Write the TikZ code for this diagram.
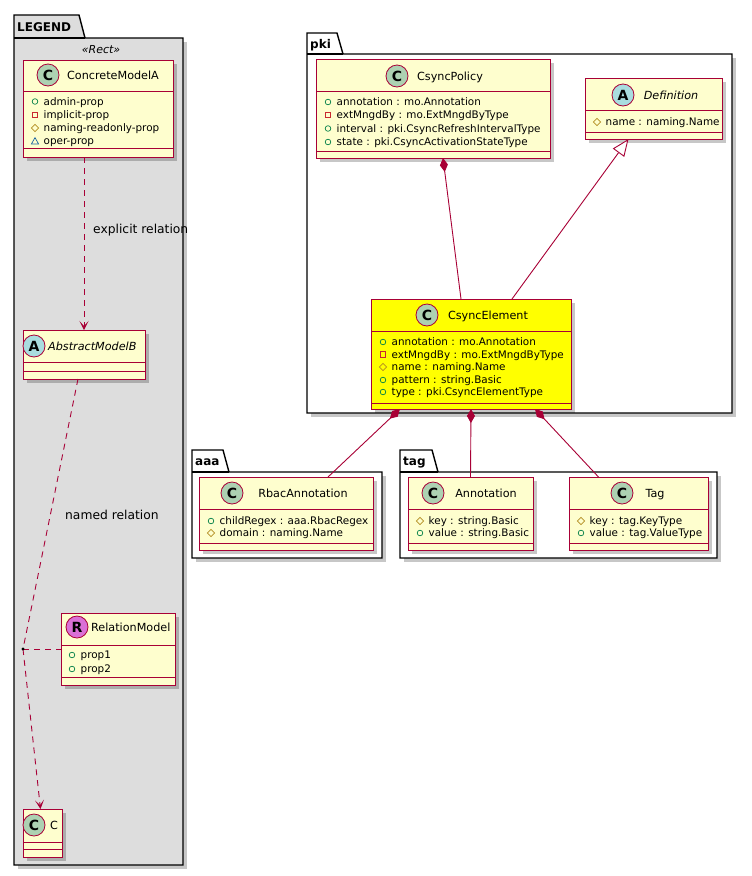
\documentclass[tikz,border=0pt]{standalone}
\usepackage{fontspec}
\setmainfont{DejaVu Sans}
\usetikzlibrary{arrows.meta,calc}
\definecolor{umlred}{HTML}{A80036}
\definecolor{clsfill}{HTML}{FEFECE}
\definecolor{cC}{HTML}{ADD1B2}
\definecolor{cA}{HTML}{A9DCDF}
\definecolor{cR}{HTML}{DA70D6}
\definecolor{legbg}{HTML}{DDDDDD}
\definecolor{vpub}{HTML}{038048}
\definecolor{vpriv}{HTML}{C82930}
\definecolor{vprot}{HTML}{B38D22}
\definecolor{vpkg}{HTML}{1963A0}
\definecolor{hiyellow}{HTML}{FFFF00}
\tikzset{
  clsline/.style={draw=umlred, line width=1pt},
  shadowc/.style={fill=black, opacity=0.22},
  attrtxt/.style={anchor=base west, inner sep=0pt, font=\fontsize{10.4}{13}\selectfont},
  titletxt/.style={anchor=base, inner sep=0pt, font=\fontsize{11.2}{13}\selectfont},
  ititletxt/.style={titletxt, font=\fontsize{11.2}{13}\selectfont\itshape},
  circ/.style={circle, draw=umlred, line width=0.8pt, minimum size=22pt, inner sep=0pt,
    font=\fontsize{14}{14}\selectfont\bfseries},
  pkgline/.style={draw=black, line width=1.4pt, line join=miter},
  pkgtxt/.style={anchor=base west, inner sep=0pt, font=\fontsize{12}{14}\selectfont\bfseries},
  lbltxt/.style={anchor=west, inner sep=0pt, font=\fontsize{12.3}{14}\selectfont},
  conn/.style={draw=umlred, line width=0.9pt},
  dep/.style={conn, dash pattern=on 6pt off 5pt},
  deptip/.style={-{Stealth[length=9pt, width=9pt, inset=5pt, umlred]}},
  compos/.style={{Diamond[length=14pt, width=8pt, umlred]}-},
  inherit/.style={{Triangle[open, length=17pt, width=14pt, fill=white, umlred]}-},
}
\newcounter{tx}
\newcommand\vispub[2]{\draw[vpub, line width=0.7pt] ({#1},{#2}) circle (2.8);}
\newcommand\vispriv[2]{\draw[vpriv, line width=0.7pt] ({#1-2.8},{#2-2.8}) rectangle ({#1+2.8},{#2+2.8});}
\newcommand\visprot[2]{\draw[vprot, line width=0.7pt] ({#1},{#2-3.6}) -- ({#1+3.6},{#2}) -- ({#1},{#2+3.6}) -- ({#1-3.6},{#2}) -- cycle;}
\newcommand\vispkg[2]{\draw[vpkg, line width=0.7pt, line join=miter] ({#1-3.6},{#2+3}) -- ({#1+3.6},{#2+3}) -- ({#1},{#2-3.4}) -- cycle;}
\newcommand\attrline[4]{%
  \stepcounter{tx}%
  \csname vis#3\endcsname{#1+12}{#2}%
  \node[attrtxt] (t\thetx) at ({#1+20.5},{#2+3.8}) {#4};}
% class box: [fill]{name}{x1}{y1}{x2}{y2}{sep1}{sep2}
\newcommand\umlcls[8][clsfill]{%
  \fill[shadowc] ({#3+4},{#4+4}) rectangle ({#5+4},{#6+4});
  \node[draw=umlred, line width=1pt, fill=#1, inner sep=0pt, outer sep=0pt,
    anchor=north west, minimum width={#5-#3}, minimum height={#6-#4}] (#2) at (#3,#4) {};
  \draw[clsline] (#3,#7) -- (#5,#7);
  \draw[clsline] (#3,#8) -- (#5,#8);}
% package: {label}{x1}{tabtop}{tabright}{bodytop}{x2}{y2}{fill}
\newcommand\umlpkg[8]{%
  \fill[shadowc] ({#2+4},{#5+4}) rectangle ({#6+4},{#7+4});
  \draw[pkgline, fill=#8] (#2,#5) -- (#2,#3) -- (#4,#3) -- ({#4+6},#5) -- (#6,#5) -- (#6,#7) -- (#2,#7) -- cycle;
  \draw[pkgline] (#2,#5) -- ({#4+6},#5);
  \stepcounter{tx}%
  \node[pkgtxt] (p\thetx) at ({#2+3},{(#3+#5)/2+4.5}) {#1};}
\begin{document}
\begin{tikzpicture}[x=1pt,y=-1pt]
\useasboundingbox (0,0) rectangle (752,876);
\fill[white] (0,0) rectangle (752,876);

% ---------- packages ----------
\umlpkg{LEGEND}{14}{15}{79}{38}{183}{865}{legbg}
\umlpkg{pki}{307}{33}{337}{54}{732}{413}{white}
\umlpkg{aaa}{192}{450}{223}{472}{382}{558}{white}
\umlpkg{tag}{400}{450}{432}{472}{717}{558}{white}

\node[anchor=base, inner sep=0pt, font=\fontsize{11}{13}\selectfont\itshape] (stereo) at (101,53) {«Rect»};

% ---------- classes ----------
\umlcls{cma}{23}{60}{173}{157}{91}{148}
\node[circ, fill=cC] (icma) at (48,75) {C};
\node[titletxt] (ncma) at (113,79) {ConcreteModelA};
\attrline{23}{101.5}{pub}{admin-prop}
\attrline{23}{115}{priv}{implicit-prop}
\attrline{23}{128}{prot}{naming-readonly-prop}
\attrline{23}{141}{pkg}{oper-prop}

\umlcls{amb}{23}{330}{145}{379}{362}{371}
\node[circ, fill=cA] (iamb) at (34,346) {A};
\node[ititletxt, anchor=base west] (namb) at (48,350) {AbstractModelB};

\umlcls{rm}{61}{613}{175}{685}{645}{677}
\node[circ, fill=cR] (irm) at (77,627) {R};
\node[titletxt, anchor=base west] (nrm) at (91,631) {RelationModel};
\attrline{60}{655}{pub}{prop1}
\attrline{60}{669}{pub}{prop2}

\umlcls{cc}{23}{809}{62}{857}{842}{849}
\node[circ, fill=cC] (icc) at (34,825) {C};
\node[titletxt, anchor=base west] (ncc) at (50,829) {C};

\umlcls{cp}{316}{59}{550}{158}{91}{151}
\node[circ, fill=cC] (icp) at (397,76) {C};
\node[titletxt] (ncp) at (450,80) {CsyncPolicy};
\attrline{316}{102}{pub}{annotation : mo.Annotation}
\attrline{316}{115}{priv}{extMngdBy : mo.ExtMngdByType}
\attrline{316}{128.5}{pub}{interval : pki.CsyncRefreshIntervalType}
\attrline{316}{142}{pub}{state : pki.CsyncActivationStateType}

\umlcls{def}{585}{78}{722}{139}{110}{132}
\node[circ, fill=cA] (idef) at (623,95) {A};
\node[ititletxt] (ndef) at (671,99) {Definition};
\attrline{585}{122}{prot}{name : naming.Name}

\umlcls[hiyellow]{ce}{371}{299}{571}{409}{331}{403}
\node[circ, fill=cC] (ice) at (427,315) {C};
\node[titletxt] (nce) at (488,319) {CsyncElement};
\attrline{371}{342}{pub}{annotation : mo.Annotation}
\attrline{371}{354.5}{priv}{extMngdBy : mo.ExtMngdByType}
\attrline{371}{367}{prot}{name : naming.Name}
\attrline{371}{380}{pub}{pattern : string.Basic}
\attrline{371}{392}{pub}{type : pki.CsyncElementType}

\umlcls{rbac}{199}{477}{373}{550}{509}{543}
\node[circ, fill=cC] (irbac) at (232,493) {C};
\node[titletxt] (nrbac) at (303,497) {RbacAnnotation};
\attrline{199}{521}{pub}{childRegex : aaa.RbacRegex}
\attrline{199}{533}{prot}{domain : naming.Name}

\umlcls{ann}{408}{477}{533}{550}{509}{543}
\node[circ, fill=cC] (iann) at (433,493) {C};
\node[titletxt] (nann) at (486,497) {Annotation};
\attrline{408}{521}{prot}{key : string.Basic}
\attrline{408}{533}{pub}{value : string.Basic}

\umlcls{tag}{569}{477}{708}{550}{509}{543}
\node[circ, fill=cC] (itag) at (622,493) {C};
\node[titletxt] (ntag) at (655,497) {Tag};
\attrline{569}{521}{prot}{key : tag.KeyType}
\attrline{569}{533}{pub}{value : tag.ValueType}

% ---------- connectors ----------
\draw[dep, deptip] (cma.south -| amb.north) -- (amb.north);
\node[lbltxt] (lexp) at (93,230) {explicit relation};

\coordinate (assoc) at (23,649);
\draw[dep] ($(amb.south)+(-6,0)$) -- (assoc);
\draw[dep, deptip] (assoc) -- ($(cc.north)+(-2,0)$);
\draw[dep] (assoc) -- (rm.west |- assoc);
\fill[black] (assoc) circle (1.6);
\node[lbltxt] (lnamed) at (65,515) {named relation};

\draw[conn, compos] ($(cp.south)+(10,0)$) -- ($(ce.north)+(-10,0)$);
\draw[conn, inherit] ($(def.south)+(-25,0)$) -- ($(ce.north)+(41,0)$);
\draw[conn, compos] ($(ce.south)+(-71,0)$) -- ($(rbac.north)+(42,0)$);
\draw[conn, compos] (ce.south) -- (ann.north);
\draw[conn, compos] ($(ce.south)+(64,0)$) -- ($(tag.north)+(-40,0)$);
\end{tikzpicture}
\end{document}
